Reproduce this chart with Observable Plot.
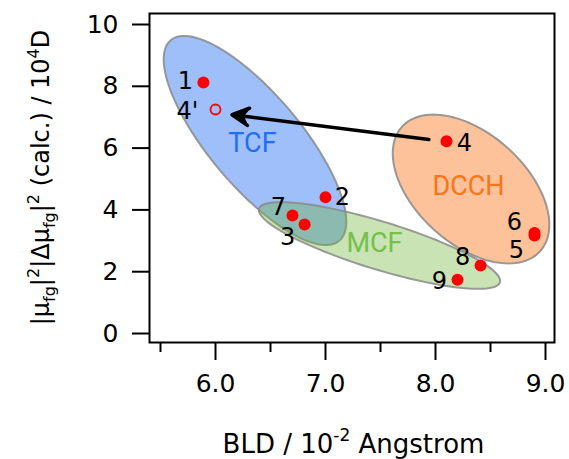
<!DOCTYPE html>
<html><head><meta charset="utf-8">
<script src="https://cdn.jsdelivr.net/npm/d3@7"></script>
<script src="https://cdn.jsdelivr.net/npm/@observablehq/plot@0.6"></script>
<style>body{margin:0;background:#fff}</style>
</head><body><div id="chart"></div>
<script>
// ---- data ----
const ids = ["1","2","3","4","5","6","7","8","9"];
const bld = [5.89, 7.00, 6.81, 8.10, 8.90, 8.90, 6.70, 8.41, 8.20];
const mu  = [8.12, 4.41, 3.53, 6.22, 3.17, 3.25, 3.82, 2.20, 1.74];
const primeId = "4'";
const primeBld = 6.00;
const primeMu = 7.25;
const xTicks = [6, 7, 8, 9];
const xMinorTicks = [5.5, 6.5, 7.5, 8.5];
const yTicks = [0, 2, 4, 6, 8, 10];
// regions: centre and two conjugate semi-diameters, in data units
const regionNames = ["TCF", "DCCH", "MCF"];
const regionCx = [6.359, 8.323, 7.491];
const regionCy = [6.246, 4.676, 2.848];
const regionU = [[0.766, -3.246], [0.628, -2.013], [1.095, -1.191]];
const regionV = [[-0.320, -0.958], [-0.335, -1.323], [-0.064, -0.741]];
const regionLabelX = [6.336, 8.30, 7.445];
const regionLabelY = [6.15, 4.76, 2.91];
const arrowFrom = [7.94, 6.28];
const arrowTo = [6.15, 7.08];

// ---- layout / style ----
const W = 569, H = 459, ML = 149, MR = 15, MT = 13, MB = 117;
const xDomain = [5.4, 9.0818], yDomain = [-0.291, 10.356];
const fillColors = ["#9ebffa", "#fdc29a", "rgba(109,180,52,0.37)"];
const textColors = ["#1f6ff2", "#fb7418", "#74c04a"];
const labelOffsets = {
  "1": [-18, -1], "2": [17, 0], "3": [-17, 13], "4": [18, 2], "5": [-18, 15],
  "6": [-20, -11], "7": [-14, -8], "8": [-18, -8.5], "9": [-18, 2], "4'": [-28, 2]
};

const points = ids.map((id, i) => ({id, x: bld[i], y: mu[i]}));
const regions = regionNames.map((name, i) => ({name, cx: regionCx[i], cy: regionCy[i], u: regionU[i], v: regionV[i], lx: regionLabelX[i], ly: regionLabelY[i], fill: fillColors[i], color: textColors[i]}));
const outline = r => d3.range(0, 360, 3).map(deg => {
  const t = deg * Math.PI / 180;
  return {x: r.cx + r.u[0]*Math.cos(t) + r.v[0]*Math.sin(t), y: r.cy + r.u[1]*Math.cos(t) + r.v[1]*Math.sin(t)};
});
const allLabels = [...points.map(p => ({id: p.id, x: p.x, y: p.y})), {id: primeId, x: primeBld, y: primeMu}];

// filled arrowhead: angle of the arrow on screen
const sx = d3.scaleLinear(xDomain, [ML, W - MR]);
const sy = d3.scaleLinear(yDomain, [H - MB, MT]);
const headRotate = Math.atan2(sy(arrowFrom[1]) - sy(arrowTo[1]), sx(arrowFrom[0]) - sx(arrowTo[0])) * 180 / Math.PI;
const headSymbol = {draw(ctx) { ctx.moveTo(0, 0); ctx.lineTo(17, -8.8); ctx.lineTo(11.5, 0); ctx.lineTo(17, 8.8); ctx.closePath(); }};

const plot = Plot.plot({
  width: W, height: H,
  marginLeft: ML, marginRight: MR, marginTop: MT, marginBottom: MB,
  x: {domain: xDomain},
  y: {domain: yDomain},
  style: {fontFamily: "DejaVu Sans", fontSize: "24px", color: "black", background: "white"},
  marks: [
    ...regions.map(r => Plot.line(outline(r), {x: "x", y: "y", curve: "linear-closed", fill: r.fill, stroke: "#8a8a8a", strokeOpacity: 0.85, strokeWidth: 2})),
    ...regions.map(r => Plot.text([r], {x: "lx", y: "ly", text: "name", fill: r.color, fontFamily: "Roboto", fontSize: 27})),
    Plot.frame({stroke: "black", strokeWidth: 2}),
    Plot.axisX({ticks: xTicks, tickFormat: d3.format(".1f"), tickSize: 18, tickPadding: 14, strokeWidth: 2, label: null, fontSize: 25}),
    Plot.axisX({ticks: xMinorTicks, tickFormat: () => "", tickSize: 10, strokeWidth: 2, label: null}),
    Plot.axisY({ticks: yTicks, tickSize: 17, tickPadding: 14, strokeWidth: 2, label: null, fontSize: 25}),
    Plot.arrow([{x1: arrowFrom[0], y1: arrowFrom[1], x2: arrowTo[0], y2: arrowTo[1]}], {x1: "x1", y1: "y1", x2: "x2", y2: "y2", stroke: "black", strokeWidth: 3.5, headLength: 8, headAngle: 55}),
    Plot.dot([{x: arrowTo[0], y: arrowTo[1]}], {x: "x", y: "y", symbol: headSymbol, rotate: headRotate, fill: "black", stroke: "black", strokeWidth: 1, strokeLinejoin: "miter"}),
    Plot.dot(points, {x: "x", y: "y", r: 6, fill: "#ff0000", stroke: "none"}),
    Plot.dot([{x: primeBld, y: primeMu}], {x: "x", y: "y", r: 5, fill: "none", stroke: "#ff0000", strokeWidth: 1.8}),
    ...allLabels.map(l => Plot.text([l], {x: "x", y: "y", text: "id", dx: labelOffsets[l.id][0], dy: labelOffsets[l.id][1], fontSize: 24, fill: "black"}))
  ]
});
document.getElementById("chart").appendChild(plot);

// ---- axis titles with sub/superscripts ----
const svg = d3.select(plot);
const xs = plot.scale("x").range, ys = plot.scale("y").range;
function rich(sel, parts, up, down, small) {
  let shift = 0;
  for (const [t, s] of parts) {
    const target = s === 1 ? -up : s === -1 ? down : 0;
    const tsp = sel.append("tspan").attr("dy", target - shift).text(t);
    if (s !== 0) tsp.attr("font-size", small);
    shift = target;
  }
}
const xt = svg.append("text")
  .attr("x", (xs[0] + xs[1]) / 2 + 2).attr("y", 453)
  .attr("text-anchor", "middle").attr("font-family", "DejaVu Sans").attr("font-size", 26).attr("fill", "black");
rich(xt, [["BLD / 10", 0], ["-2", 1], [" Angstrom", 0]], 12, 6, 17);
const yt = svg.append("text")
  .attr("transform", `translate(49,${(ys[0] + ys[1]) / 2}) rotate(-90)`)
  .attr("text-anchor", "middle").attr("font-family", "DejaVu Sans").attr("font-size", 24).attr("fill", "black");
rich(yt, [["|μ", 0], ["fg", -1], ["|", 0], ["2", 1], ["|Δμ", 0], ["fg", -1], ["|", 0], ["2", 1], [" (calc.) / 10", 0], ["4", 1], ["D", 0]], 10, 6, 16);
</script></body></html>
